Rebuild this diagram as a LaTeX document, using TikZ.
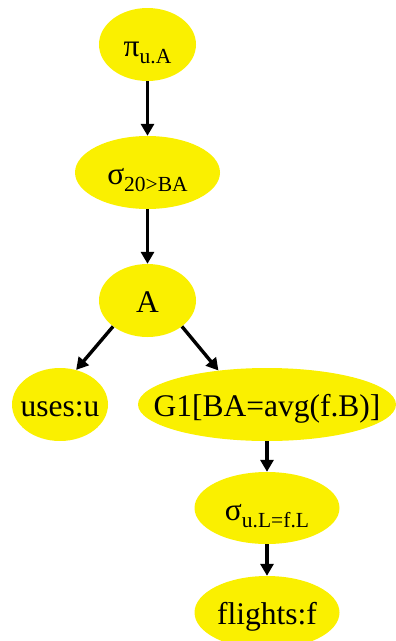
\documentclass[tikz,border=0pt]{standalone}
\usepackage{fontspec}
\setmainfont{Liberation Serif}
\usetikzlibrary{arrows.meta,shapes.geometric}
\definecolor{nodeyellow}{RGB}{250,240,0}
\newcommand{\subtxt}[1]{\raisebox{-7pt}{\fontsize{21.5}{25}\selectfont #1}}
\newcommand{\lbl}[1]{\makebox[0pt]{#1}}
\begin{document}
\begin{tikzpicture}[x=1pt,y=-1pt,
  opnode/.style={ellipse, fill=nodeyellow, inner sep=0pt, text height=24pt, text depth=0pt,
    font=\fontsize{31.5}{37}\selectfont},
  flow/.style={line width=3.4pt, -{Triangle[length=12pt,width=13pt]}}]
\useasboundingbox (0,0) rectangle (396,641);
\node[opnode, minimum width=97pt, minimum height=73pt] (pi) at (147.5,44.5) {\lbl{π\subtxt{u.A}}};
\node[opnode, minimum width=145pt, minimum height=73pt] (sig1) at (147.5,172.5) {\lbl{σ\subtxt{20>BA}}};
\node[opnode, minimum width=97pt, minimum height=73pt] (A) at (147.5,300.5) {\lbl{A}};
\node[opnode, minimum width=96pt, minimum height=73pt] (uses) at (60,404.5) {\lbl{uses:u}};
\node[opnode, minimum width=258pt, minimum height=73pt] (G1) at (267,404.5) {\lbl{G1[BA=avg(f.B)]}};
\node[opnode, minimum width=145pt, minimum height=72pt] (sig2) at (267,508) {\lbl{σ\subtxt{u.L=f.L}}};
\node[opnode, minimum width=145pt, minimum height=73pt] (flights) at (267,612.5) {\lbl{flights:f}};
\draw[flow] (pi.south) -- (sig1.north);
\draw[flow] (sig1.south) -- (A.north);
\draw[flow] (A.south west) -- (uses.65);
\draw[flow] (A.south east) -- (G1.145);
\draw[flow] (G1.south) -- (sig2.north);
\draw[flow] (sig2.south) -- (flights.north);
\end{tikzpicture}
\end{document}
